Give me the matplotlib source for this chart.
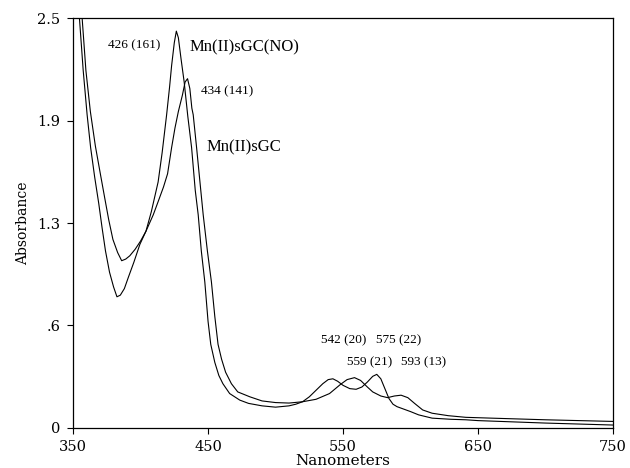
import matplotlib
matplotlib.use('Agg')
import matplotlib.pyplot as plt
import numpy as np

# Mn(II)sGC(NO) spectrum (nm, absorbance)
nm_no = [352, 354.7, 357.5, 360.4, 363, 366, 369, 371.5, 374, 377, 380, 382.5,
         385, 388, 391, 395, 399.5, 404, 408, 413, 416, 419.3, 421.5, 423, 425,
         426.5, 428, 430, 432.3, 435, 437.8, 440.5, 442.7, 445, 447.6, 450, 452,
         455, 458, 461, 466, 473.5, 480, 490, 500, 510, 515, 520, 525, 530, 535,
         539, 542.5, 546, 550, 555, 559.7, 564, 568, 572, 575, 578, 581, 584, 587,
         590, 595, 600, 606, 616, 630, 641, 650, 700, 750]
abs_no = [2.78, 2.50, 2.18, 1.91, 1.71, 1.53, 1.37, 1.22, 1.08, 0.95, 0.86, 0.80,
          0.81, 0.85, 0.92, 1.01, 1.12, 1.20, 1.32, 1.50, 1.68, 1.91, 2.08, 2.21, 2.35,
          2.42, 2.38, 2.25, 2.11, 1.90, 1.71, 1.45, 1.30, 1.08, 0.89, 0.65, 0.51,
          0.40, 0.32, 0.27, 0.21, 0.17, 0.15, 0.135, 0.127, 0.135, 0.145, 0.16, 0.19, 0.23, 0.27,
          0.295, 0.30, 0.285, 0.26, 0.24, 0.236, 0.25, 0.28, 0.315, 0.327, 0.30, 0.24, 0.18, 0.145,
          0.13, 0.115, 0.10, 0.08, 0.06, 0.053, 0.05, 0.045, 0.03, 0.018]

# Mn(II)sGC spectrum
nm_sgc = [354, 356.7, 359.5, 362.8, 366.5, 370.2, 373.5, 376.4, 379.5, 383, 386,
          389, 392, 396, 400, 404, 409.4, 413, 417, 420, 423, 425.5, 428, 431, 433,
          434.8, 436.5, 438, 439, 441.5, 444, 446.4, 449.5, 452.5, 455, 457.4, 460,
          463, 467.3, 472, 481, 490, 500, 510, 520, 530, 540, 548, 553, 558.5, 563,
          568, 572, 578, 583, 588, 593, 598, 603, 609, 616, 628, 641, 660, 700, 750]
abs_sgc = [2.75, 2.50, 2.18, 1.93, 1.72, 1.55, 1.40, 1.27, 1.15, 1.07, 1.02,
           1.03, 1.05, 1.09, 1.14, 1.20, 1.30, 1.38, 1.47, 1.55, 1.71, 1.83, 1.93, 2.03, 2.11,
           2.13, 2.07, 1.95, 1.91, 1.71, 1.50, 1.30, 1.08, 0.89, 0.68, 0.51, 0.42,
           0.34, 0.27, 0.22, 0.19, 0.165, 0.155, 0.152, 0.16, 0.175, 0.21, 0.265, 0.295, 0.307, 0.29,
           0.25, 0.22, 0.195, 0.185, 0.195, 0.20, 0.185, 0.15, 0.11, 0.09, 0.075, 0.065, 0.06, 0.05, 0.04]

y_ticks = [0, 0.625, 1.25, 1.875, 2.5]
y_ticklabels = ['0', '.6', '1.3', '1.9', '2.5']
x_ticks = [350, 450, 550, 650, 750]

peak_labels = ['426 (161)', '434 (141)', '542 (20)', '575 (22)', '559 (21)', '593 (13)']
peak_pos = [(395, 2.335), (464, 2.055), (550.5, 0.537), (591.5, 0.537), (569.5, 0.402), (609.5, 0.402)]

fig = plt.figure(figsize=(6.3, 4.68), dpi=100)
ax = fig.add_axes([0.116, 0.0855, 0.857, 0.876])

ax.plot(nm_no, abs_no, color='black', lw=0.8)
ax.plot(nm_sgc, abs_sgc, color='black', lw=0.8)

ax.set_xlim(350, 750)
ax.set_ylim(0, 2.5)
ax.set_xticks(x_ticks)
ax.set_xticklabels([str(v) for v in x_ticks], family='DejaVu Serif', fontsize=10.5)
ax.set_yticks(y_ticks)
ax.set_yticklabels(y_ticklabels, family='DejaVu Serif', fontsize=10.5)
ax.tick_params(direction='out', length=4, width=0.8, pad=5)
for s in ax.spines.values():
    s.set_linewidth(0.9)

ax.set_xlabel('Nanometers', family='DejaVu Serif', fontsize=11, labelpad=0)
ax.set_ylabel('Absorbance', family='DejaVu Serif', fontsize=10, labelpad=5)

for txt, (px, py) in zip(peak_labels, peak_pos):
    ax.text(px, py, txt, ha='center', va='center', family='Liberation Serif', fontsize=9.5)

ax.text(436.5, 2.32, 'Mn(II)sGC(NO)', ha='left', va='center', family='Liberation Serif', fontsize=12)
ax.text(449, 1.71, 'Mn(II)sGC', ha='left', va='center', family='Liberation Serif', fontsize=12)

plt.savefig('out.png', dpi=100)
